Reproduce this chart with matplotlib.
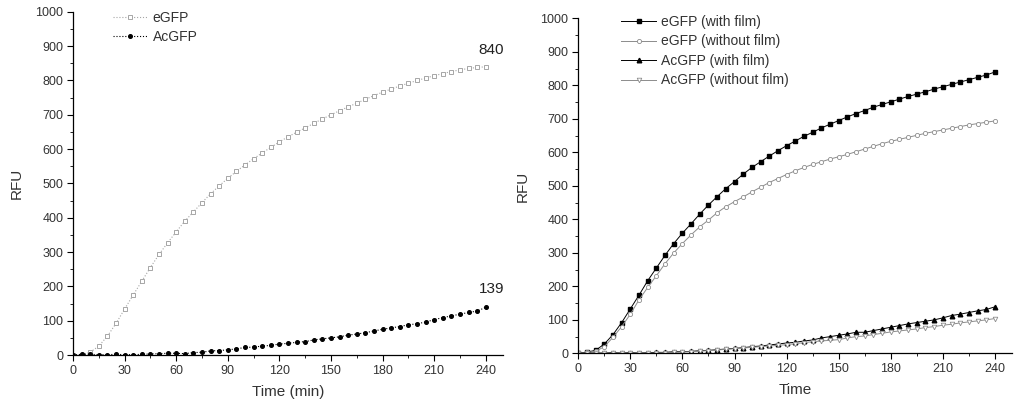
import matplotlib
matplotlib.use("Agg")
import matplotlib.pyplot as plt
from matplotlib.ticker import MultipleLocator

plt.rcParams["font.family"] = ["Liberation Sans", "DejaVu Sans"]

# time points (min)
time = list(range(0, 245, 5))

# left panel
egfp = [0, 1, 8, 26, 55, 92, 134, 175, 215, 255, 293, 327, 359, 390, 417, 444,
        470, 493, 515, 535, 554, 572, 589, 605, 621, 636, 649, 662, 675, 688,
        700, 712, 723, 734, 745, 756, 766, 775, 784, 792, 800, 807, 814, 820,
        826, 831, 835, 838, 840]
acgfp = [0, 2, 2, 1, 1, 2, 1, 1, 2, 3, 4, 5, 5, 4, 7, 8, 12, 13, 15, 18,
         22, 23, 26, 28, 32, 34, 37, 39, 44, 47, 50, 53, 58, 61, 65, 70, 75,
         79, 83, 88, 91, 96, 103, 109, 114, 119, 124, 128, 139]

# right panel
egfp_film = [0, 4, 9, 28, 56, 92, 133, 174, 217, 255, 293, 328, 359, 387, 416,
             443, 468, 492, 513, 535, 555, 572, 589, 605, 620, 634, 648, 660,
             673, 684, 695, 706, 716, 725, 735, 743, 751, 759, 767, 774, 781,
             789, 796, 803, 810, 817, 824, 831, 840]
egfp_nofilm = [0, 3, 6, 20, 48, 80, 117, 160, 197, 232, 268, 300, 328, 354,
               378, 398, 420, 438, 453, 467, 482, 496, 510, 522, 534, 545, 555,
               564, 572, 580, 587, 594, 602, 610, 618, 626, 633, 639, 645, 651,
               657, 662, 667, 672, 677, 682, 686, 690, 694]
acgfp_film = [0, 1, 1, 1, 2, 1, 2, 1, 2, 3, 3, 5, 5, 6, 8, 9, 11, 13, 15, 17,
              20, 22, 25, 28, 31, 33, 37, 40, 46, 50, 54, 58, 63, 63, 68, 73,
              78, 83, 88, 92, 96, 100, 106, 113, 117, 122, 127, 131, 139]
acgfp_nofilm = [0, 0, 0, 0, 0, 0, 0, 0, 1, 1, 2, 3, 4, 5, 7, 8, 10, 12, 14,
                16, 18, 20, 22, 24, 26, 29, 32, 35, 37, 39, 41, 46, 50, 52, 56,
                60, 64, 67, 70, 73, 77, 80, 84, 87, 91, 94, 97, 100, 104]

GRAY = "#8c8c8c"
TICK_COLOR = "#333333"

fig = plt.figure(figsize=(10.14, 4.09), dpi=100)
ax1 = fig.add_axes([0.072, 0.132, 0.424, 0.839])
ax2 = fig.add_axes([0.5703, 0.136, 0.428, 0.819])


def style_axes(ax, xlabel):
    ax.set_xlim(0, 250)
    ax.set_ylim(0, 1000)
    ax.spines["top"].set_visible(False)
    ax.spines["right"].set_visible(False)
    for s in ("left", "bottom"):
        ax.spines[s].set_linewidth(0.9)
    ax.xaxis.set_major_locator(MultipleLocator(30))
    ax.xaxis.set_minor_locator(MultipleLocator(15))
    ax.yaxis.set_major_locator(MultipleLocator(100))
    ax.yaxis.set_minor_locator(MultipleLocator(50))
    ax.tick_params(which="major", direction="out", length=4, width=0.8,
                   labelsize=9, labelcolor=TICK_COLOR, pad=3)
    ax.tick_params(which="minor", direction="out", length=2.5, width=0.6)
    ax.set_xlabel(xlabel, fontsize=11, color=TICK_COLOR, labelpad=6)
    ax.set_ylabel("RFU", fontsize=11, color=TICK_COLOR, labelpad=8)


def add_legend(ax, x0, y0):
    leg = ax.legend(loc="upper left", bbox_to_anchor=(x0, y0),
                    frameon=False, fontsize=10, handlelength=2.5,
                    handletextpad=0.35, labelspacing=0.4)
    for t in leg.get_texts():
        t.set_color(TICK_COLOR)
    return leg


# left panel: dotted lines
ax1.plot(time, egfp, color="#a6a6a6", linestyle=":", linewidth=0.8,
         marker="s", markersize=2.8, markerfacecolor="white",
         markeredgecolor="#999999", markeredgewidth=0.6, label="eGFP")
ax1.plot(time, acgfp, color="black", linestyle=":", linewidth=0.8,
         marker="o", markersize=2.6, markerfacecolor="black",
         markeredgecolor="black", label="AcGFP")
style_axes(ax1, "Time (min)")
ax1.annotate(str(egfp[-1]), (time[-1], egfp[-1]), xytext=(4, 7),
             textcoords="offset points", ha="center", va="bottom",
             fontsize=11, color="#222222")
ax1.annotate(str(acgfp[-1]), (time[-1], acgfp[-1]), xytext=(4, 8),
             textcoords="offset points", ha="center", va="bottom",
             fontsize=11, color="#222222")
add_legend(ax1, 0.064, 1.04)

# right panel: solid lines
ax2.plot(time, egfp_film, color="black", linewidth=0.7,
         marker="s", markersize=3.0, markerfacecolor="black",
         markeredgecolor="black", label="eGFP (with film)")
ax2.plot(time, egfp_nofilm, color=GRAY, linewidth=0.7,
         marker="o", markersize=3.0, markerfacecolor="white",
         markeredgecolor=GRAY, markeredgewidth=0.6,
         label="eGFP (without film)")
ax2.plot(time, acgfp_film, color="black", linewidth=0.7,
         marker="^", markersize=3.3, markerfacecolor="black",
         markeredgecolor="black", label="AcGFP (with film)")
ax2.plot(time, acgfp_nofilm, color=GRAY, linewidth=0.7,
         marker="v", markersize=3.3, markerfacecolor="white",
         markeredgecolor=GRAY, markeredgewidth=0.6,
         label="AcGFP (without film)")
style_axes(ax2, "Time")
add_legend(ax2, 0.07, 1.048)

fig.savefig("out.png", dpi=100)
